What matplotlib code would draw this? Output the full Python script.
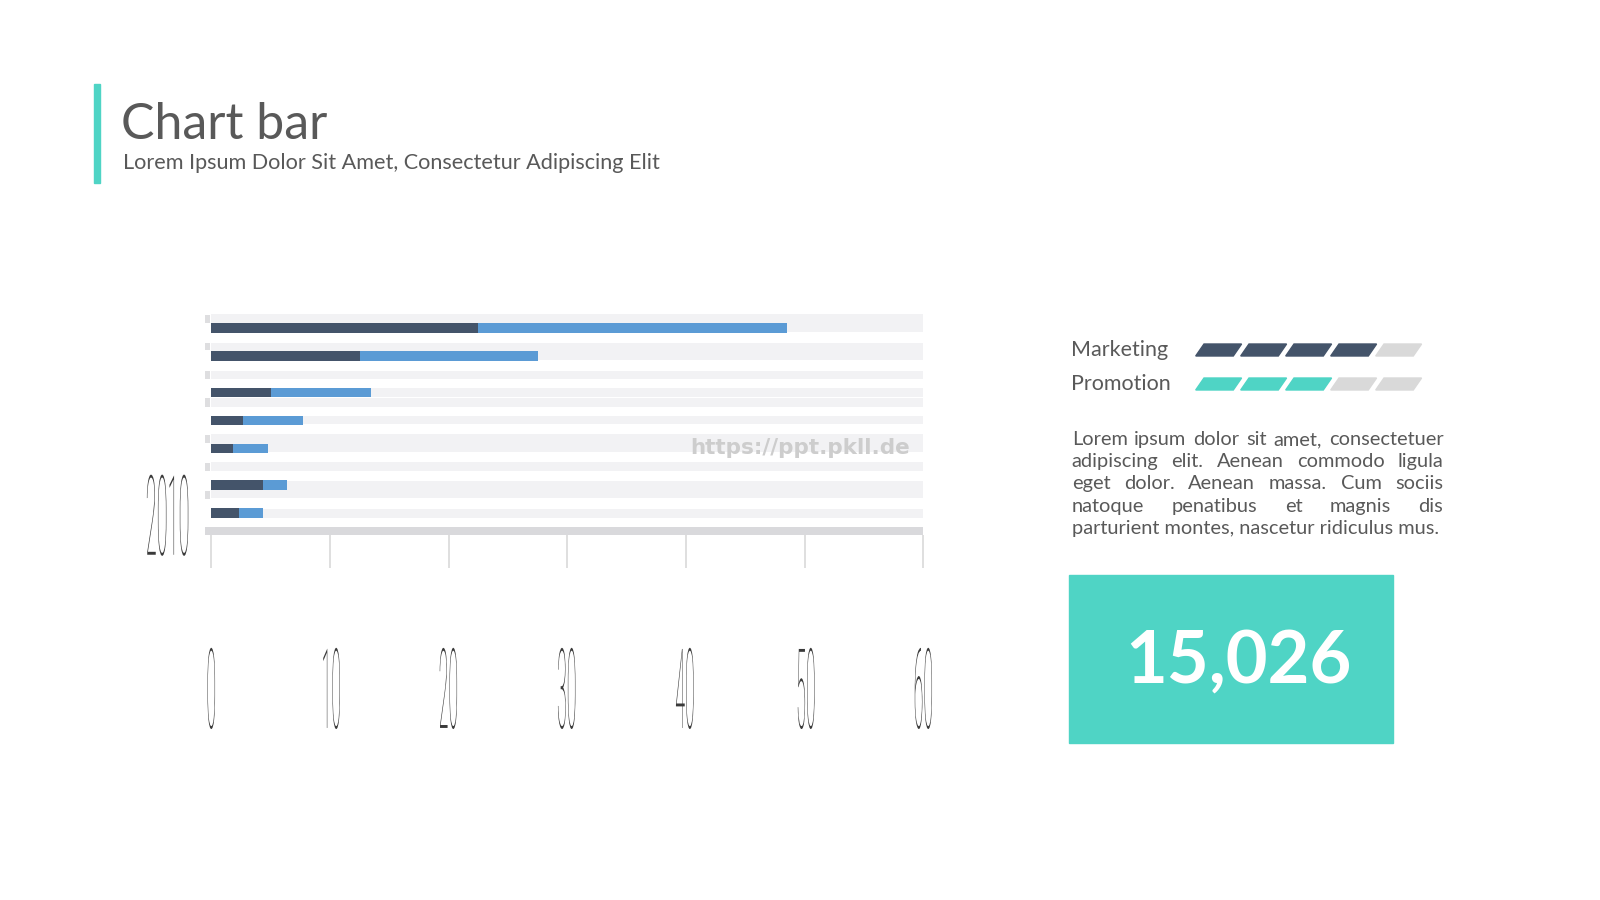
import matplotlib
matplotlib.use('Agg')
import matplotlib.pyplot as plt
from matplotlib.patches import Rectangle, Polygon
from matplotlib.patheffects import AbstractPathEffect
from matplotlib.transforms import Affine2D, blended_transform_factory

# data
year_label = '2010'
dark_values = [22.5, 12.5, 0, 5.0, 2.7, 1.8, 0, 4.4, 2.3]
blue_values = [26.0, 15.0, 0, 8.5, 5.0, 3.0, 0, 1.95, 2.1]
x_ticks = [0, 10, 20, 30, 40, 50, 60]

legend_labels = ['Marketing', 'Promotion']
legend_levels = [4, 3]
level_max = 5

big_number = '15,026'
title = 'Chart bar'
subtitle = 'Lorem Ipsum Dolor Sit Amet, Consectetur Adipiscing Elit'
paragraph = ['Lorem ipsum dolor sit amet, consectetuer',
             'adipiscing elit. Aenean commodo ligula',
             'eget dolor. Aenean massa. Cum sociis',
             'natoque penatibus et magnis dis',
             'parturient montes, nascetur ridiculus mus.']

# layout (pixel rows of the chart, top to bottom)
row_y = [328, 356, 374.7, 392.5, 420.5, 448.5, 466.5, 485, 513]
bar_h = 9.5
band_spans = [(314, 332), (342.7, 360), (370.7, 378.7), (388, 396.7), (397.7, 406.7),
              (416, 424), (434, 451.7), (462, 470.7), (481, 498), (509, 518)]
cap_spans = [(315, 323), (343, 350), (371, 379), (398, 407), (435, 443), (463, 471), (491, 499)]

TEXT = '#595959'
TICK_TEXT = '#3a3a3a'
DARK = '#44546a'
BLUE = '#5b9bd5'
TEAL = '#4fd4c5'
BAND = '#f2f2f4'
CAP = '#dedee0'
BASE = '#d9d9dc'
EMPTY = '#d9d9d9'

plt.rcParams['font.family'] = ['Lato', 'DejaVu Sans']


class Squeeze(AbstractPathEffect):
    """draw text squeezed horizontally (condensed look)"""
    def __init__(self, sx):
        super().__init__()
        self.sx = sx

    def draw_path(self, renderer, gc, tpath, affine, rgbFace=None):
        if len(tpath.vertices) == 0:
            return
        ext = tpath.get_extents()
        cx = (ext.x0 + ext.x1) / 2
        sq = Affine2D().translate(-cx, 0).scale(self.sx, 1).translate(cx, 0)
        renderer.draw_path(gc, tpath, sq + affine, rgbFace)


fig = plt.figure(figsize=(16, 9), dpi=100)
fig.patch.set_facecolor('white')

# full-figure overlay in pixel coordinates
bg = fig.add_axes([0, 0, 1, 1])
bg.set_xlim(0, 1600)
bg.set_ylim(900, 0)
bg.axis('off')

# header
bg.add_patch(Rectangle((94, 84), 6, 99, color=TEAL))
bg.text(121, 139, title, fontsize=36, color=TEXT, va='baseline')
bg.text(123, 169, subtitle, fontsize=15.6, color=TEXT, va='baseline')

# chart
L, R, T, B = 205.3, 923.3, 300, 535
ax = fig.add_axes([L / 1600, 1 - B / 900, (R - L) / 1600, (B - T) / 900])
ax.set_xlim(-0.5, 60)
ax.set_ylim(B, T)
ax.patch.set_alpha(0)
for s in ax.spines.values():
    s.set_visible(False)

for t, b in band_spans:
    ax.barh((t + b) / 2, 60, left=0, height=b - t, color=BAND, zorder=1)
for t, b in cap_spans:
    ax.barh((t + b) / 2, 0.42, left=-0.5, height=b - t, color=CAP, zorder=1)
ax.barh(531, 60.5, left=-0.5, height=8, color=BASE, zorder=1)

ax.barh(row_y, dark_values, height=bar_h, color=DARK, zorder=3)
ax.barh(row_y, blue_values, left=dark_values, height=bar_h, color=BLUE, zorder=3)

ax.text(800 / 1600, 448, 'https://ppt.pkll.de',
        transform=blended_transform_factory(fig.transFigure, ax.transData),
        fontsize=15.5, fontweight='bold', family='DejaVu Sans', color='#cdcdcd',
        ha='center', va='center', zorder=4)

ax.set_xticks(x_ticks)
ax.set_xticklabels([str(t) for t in x_ticks])
ax.tick_params(axis='x', direction='out', length=23.8, width=1.1, color='#d6d6d6',
               pad=55, labelsize=80, labelcolor=TICK_TEXT)
for lbl in ax.get_xticklabels():
    lbl.set_family('Roboto')
    lbl.set_fontweight('light')
    lbl.set_path_effects([Squeeze(0.16)])

ax.set_yticks([row_y[-1]])
ax.set_yticklabels([year_label])
ax.tick_params(axis='y', length=0, pad=27, labelsize=80, labelcolor=TICK_TEXT)
for lbl in ax.get_yticklabels():
    lbl.set_family('Roboto')
    lbl.set_fontweight('light')
    lbl.set_horizontalalignment('center')
    lbl.set_path_effects([Squeeze(0.18)])

# legend with slanted level blocks
for k, (name, level) in enumerate(zip(legend_labels, legend_levels)):
    base = 356.5 + k * 34
    bg.text(1071, base, name, fontsize=15.5, color=TEXT, va='baseline')
    fill = DARK if k == 0 else TEAL
    for i in range(level_max):
        x0 = 1195.7 + i * 45
        yb = base - 0.5
        pts = [(x0, yb), (x0 + 37.6, yb), (x0 + 45.9, yb - 12), (x0 + 8.3, yb - 12)]
        bg.add_patch(Polygon(pts, closed=True, color=fill if i < level else EMPTY))

# justified paragraph
renderer = fig.canvas.get_renderer()
px0, px1 = 1071.7, 1443.3
for i, line in enumerate(paragraph):
    yb = 445 + 22.2 * i
    if i == len(paragraph) - 1:
        bg.text(px0, yb, line, fontsize=14.4, color=TEXT, va='baseline')
        continue
    words = line.split()
    arts = [bg.text(0, yb, w, fontsize=14.4, color=TEXT, va='baseline') for w in words]
    widths = [a.get_window_extent(renderer).width for a in arts]
    gap = (px1 - px0 - sum(widths)) / (len(words) - 1)
    x = px0
    for a, w in zip(arts, widths):
        a.set_x(x)
        x += w + gap

# number box
bg.add_patch(Rectangle((1069, 575), 324, 168, color=TEAL))
bg.text(1238, 683, big_number, fontsize=52, fontweight='bold', color='white',
        ha='center', va='baseline')

fig.savefig('out.png', dpi=100)
